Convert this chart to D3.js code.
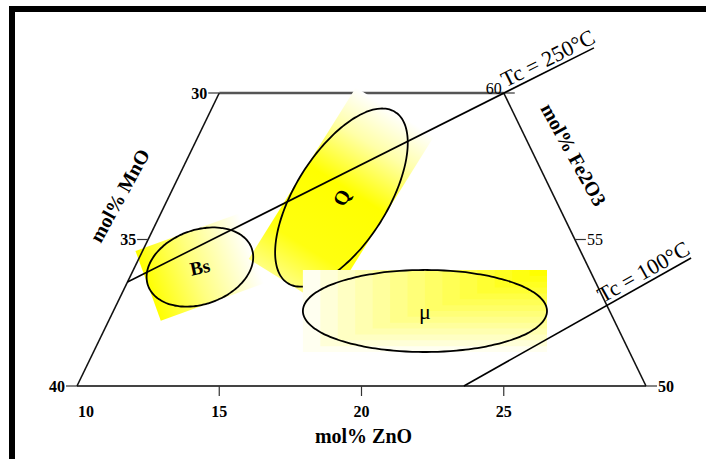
<!DOCTYPE html>
<html><head><meta charset="utf-8">
<script src="https://cdn.jsdelivr.net/npm/d3@7"></script>
<style>
html,body{margin:0;padding:0;background:#fff;}
svg{display:block;}
text{font-family:"Liberation Serif","Times New Roman",serif;fill:#000;}
</style></head><body>
<svg id="chart" width="706" height="459"></svg>
<script>
// Section of the MnO–ZnO–Fe2O3 ternary (mol%)
const znoTicks = [10, 15, 20, 25];
const mnoTicks = [30, 35, 40];
const fe2o3Ticks = [60, 55, 50];

// Phase fields: centre and two conjugate semi-axis tips, each [ZnO, Fe2O3]
const regionNames = ["Bs", "Q", "μ"];
const regionCentres = [[12.29, 54.06], [16.08, 56.43], [20.95, 52.56]];
const regionMajorTips = [[13.79, 54.70], [16.50, 59.355], [25.24, 52.56]];
const regionMinorTips = [[13.33, 52.87], [17.87, 55.60], [21.65, 51.16]];

// Curie-temperature isotherms, end points as [ZnO, Fe2O3]
const isothermLabels = ["Tc = 250°C", "Tc = 100°C"];
const isothermStarts = [[10, 53.55], [23.6, 50]];
const isothermEnds = [[22.4, 61.54], [29.4, 54.37]];

const svg = d3.select("#chart");

// Ternary projection: horizontal position from ZnO + Fe2O3/2, height from Fe2O3
const x = d3.scaleLinear().domain([10, 30]).range([77, 646]);
const y = d3.scaleLinear().domain([50, 60]).range([386, 93]);
const P = (zno, fe) => [x(zno + (fe - 50) / 2), y(fe)];
const add = (a, b, k = 1) => [a[0] + k * b[0], a[1] + k * b[1]];
const sub = (a, b) => [a[0] - b[0], a[1] - b[1]];

// Frame
svg.append("path").attr("d", "M9,9H706M12,6V459")
  .attr("stroke", "#000").attr("stroke-width", 6).attr("fill", "none");

const defs = svg.append("defs");

function geom(i) {
  const c = P(...regionCentres[i]);
  const u = sub(P(...regionMajorTips[i]), c);
  const v = sub(P(...regionMinorTips[i]), c);
  return {c, u, v};
}
function ellipsePath(i) {
  const {c, u, v} = geom(i);
  const pts = d3.range(120).map(k => {
    const t = k / 120 * 2 * Math.PI;
    return [c[0] + u[0] * Math.cos(t) + v[0] * Math.sin(t),
            c[1] + u[1] * Math.cos(t) + v[1] * Math.sin(t)];
  });
  return d3.line().curve(d3.curveCardinalClosed)(pts);
}
function boxPath(i) {
  const {c, u, v} = geom(i);
  const pts = [add(add(c, u, -1), v, -1), add(add(c, u), v, -1), add(add(c, u), v), add(add(c, u, -1), v)];
  return "M" + pts.map(p => p.join(",")).join("L") + "Z";
}
function linearShade(i, id, stops) {
  const {c, u} = geom(i);
  const a = add(c, u, -1), b = add(c, u);
  const g = defs.append("linearGradient").attr("id", id)
    .attr("gradientUnits", "userSpaceOnUse")
    .attr("x1", a[0]).attr("y1", a[1]).attr("x2", b[0]).attr("y2", b[1]);
  stops.forEach(([o, col]) => g.append("stop").attr("offset", o).attr("stop-color", col));
  svg.append("path").attr("d", boxPath(i)).attr("fill", `url(#${id})`);
}
function drawEllipse(i) {
  svg.append("path").attr("d", ellipsePath(i))
    .attr("fill", "none").attr("stroke", "#000").attr("stroke-width", 1.8);
}

// Bs shading sits under the frame lines
linearShade(0, "shadeBs", [[0, "#ffff00"], [0.45, "#ffff80"], [1, "#ffffff"]]);

// Trapezoid outline
const edgeTopL = P(10, 60), edgeTopR = P(20, 60), edgeBotL = P(10, 50), edgeBotR = P(30, 50);
svg.append("line").attr("x1", edgeTopL[0]).attr("y1", edgeTopL[1]).attr("x2", edgeTopR[0]).attr("y2", edgeTopR[1])
  .attr("stroke", "#555").attr("stroke-width", 2.4);
svg.append("line").attr("x1", edgeBotL[0]).attr("y1", edgeBotL[1]).attr("x2", edgeBotR[0]).attr("y2", edgeBotR[1])
  .attr("stroke", "#444").attr("stroke-width", 2.2);
svg.append("line").attr("x1", edgeBotL[0]).attr("y1", edgeBotL[1]).attr("x2", edgeTopL[0]).attr("y2", edgeTopL[1])
  .attr("stroke", "#111").attr("stroke-width", 1.6);
svg.append("line").attr("x1", edgeBotR[0]).attr("y1", edgeBotR[1]).attr("x2", edgeTopR[0]).attr("y2", edgeTopR[1])
  .attr("stroke", "#111").attr("stroke-width", 1.6);

const tickStroke = "#333";
const tickFont = 16;
// ZnO ticks along the base
znoTicks.forEach(z => {
  const p = P(z, 50);
  if (z !== 10) {
    svg.append("line").attr("x1", p[0]).attr("y1", p[1]).attr("x2", p[0]).attr("y2", p[1] + 10)
      .attr("stroke", tickStroke).attr("stroke-width", 1.2);
  }
  svg.append("text").attr("x", p[0] + (z === 10 ? 9 : 0)).attr("y", p[1] + 31)
    .attr("text-anchor", "middle").attr("font-size", tickFont).attr("font-weight", "bold").text(z);
});
// MnO ticks along the left edge (ZnO = 10)
mnoTicks.forEach(m => {
  const p = P(10, 90 - m);
  svg.append("line").attr("x1", p[0] - 11).attr("y1", p[1]).attr("x2", p[0]).attr("y2", p[1])
    .attr("stroke", tickStroke).attr("stroke-width", 1.2);
  svg.append("text").attr("x", p[0] - 12).attr("y", p[1]).attr("dy", "0.35em")
    .attr("text-anchor", "end").attr("font-size", tickFont).attr("font-weight", "bold").text(m);
});
// Fe2O3 ticks along the right edge (MnO = 20)
fe2o3Ticks.forEach(f => {
  const p = P(80 - f, f);
  svg.append("line").attr("x1", p[0]).attr("y1", p[1]).attr("x2", p[0] + 11).attr("y2", p[1])
    .attr("stroke", tickStroke).attr("stroke-width", 1.2);
  if (f === 60) {
    svg.append("text").attr("x", p[0] - 2).attr("y", p[1] + 1)
      .attr("text-anchor", "end").attr("font-size", tickFont).text(f);
  } else {
    svg.append("text").attr("x", p[0] + 12).attr("y", p[1]).attr("dy", "0.35em")
      .attr("font-size", tickFont).attr("font-weight", f === 50 ? "bold" : "normal").text(f);
  }
});

// Axis titles
const zt = P(20, 50);
svg.append("text").attr("x", zt[0] + 2).attr("y", zt[1] + 57).attr("text-anchor", "middle")
  .attr("font-size", 20).attr("font-weight", "bold").text("mol% ZnO");
const mt = P(10, 56.5);
svg.append("text").attr("transform", `translate(${mt[0] - 50},${mt[1]}) rotate(-61)`)
  .attr("text-anchor", "middle").attr("dy", "0.35em")
  .attr("font-size", 20).attr("font-weight", "bold").text("mol% MnO");
const ft = P(80 - 57.9, 57.9);
svg.append("text").attr("transform", `translate(${ft[0] + 40},${ft[1]}) rotate(61)`)
  .attr("text-anchor", "middle").attr("dy", "0.35em")
  .attr("font-size", 20).attr("font-weight", "bold").text("mol% Fe2O3");

// Q field shading and outline
linearShade(1, "shadeQ", [[0, "#ffff80"], [0.2, "#ffff10"], [0.55, "#ffff00"], [0.8, "#ffffa8"], [1, "#ffffff"]]);
drawEllipse(1);

// μ field: stepped shading spreading from its upper-right corner
(function () {
  const {c, u, v} = geom(2);
  const K = add(add(c, u), v, -1);
  const N = 14;
  for (let k = 0; k < N; k++) {
    const s = 1 - k / N;
    const pts = [K, add(K, u, -2 * s), add(add(K, u, -2 * s), v, 2 * s), add(K, v, 2 * s)];
    const f = 0.06 + 0.94 * Math.pow(k / (N - 1), 0.9);
    svg.append("path").attr("d", "M" + pts.map(p => p.join(",")).join("L") + "Z")
      .attr("fill", d3.interpolateRgb("#ffffff", "#ffff00")(f));
  }
})();
drawEllipse(2);
drawEllipse(0);

// Isotherms
isothermLabels.forEach((lab, i) => {
  const a = P(...isothermStarts[i]), b = P(...isothermEnds[i]);
  svg.append("line").attr("x1", a[0]).attr("y1", a[1]).attr("x2", b[0]).attr("y2", b[1])
    .attr("stroke", "#000").attr("stroke-width", 1.6);
  const ang = Math.atan2(b[1] - a[1], b[0] - a[0]);
  const t = i === 0 ? 0.815 : 0.62;
  const p = [a[0] + (b[0] - a[0]) * t, a[1] + (b[1] - a[1]) * t];
  const off = 4;
  const q = [p[0] + off * Math.sin(ang), p[1] - off * Math.cos(ang)];
  svg.append("text").attr("transform", `translate(${q[0]},${q[1]}) rotate(${ang * 180 / Math.PI})`)
    .attr("font-size", 22).text(lab);
});

// Field labels
const labelRot = [-12, -62, 0];
regionNames.forEach((n, i) => {
  const c = P(...regionCentres[i]);
  const t = svg.append("text").attr("transform", `translate(${c[0]},${c[1]}) rotate(${labelRot[i]})`)
    .attr("text-anchor", "middle").attr("dy", "0.35em").text(n);
  if (i === 2) t.attr("font-family", "'Liberation Sans', Arial, sans-serif").attr("font-size", 22);
  else t.attr("font-size", i === 0 ? 19 : 20).attr("font-weight", "bold");
});
</script>
</body></html>
